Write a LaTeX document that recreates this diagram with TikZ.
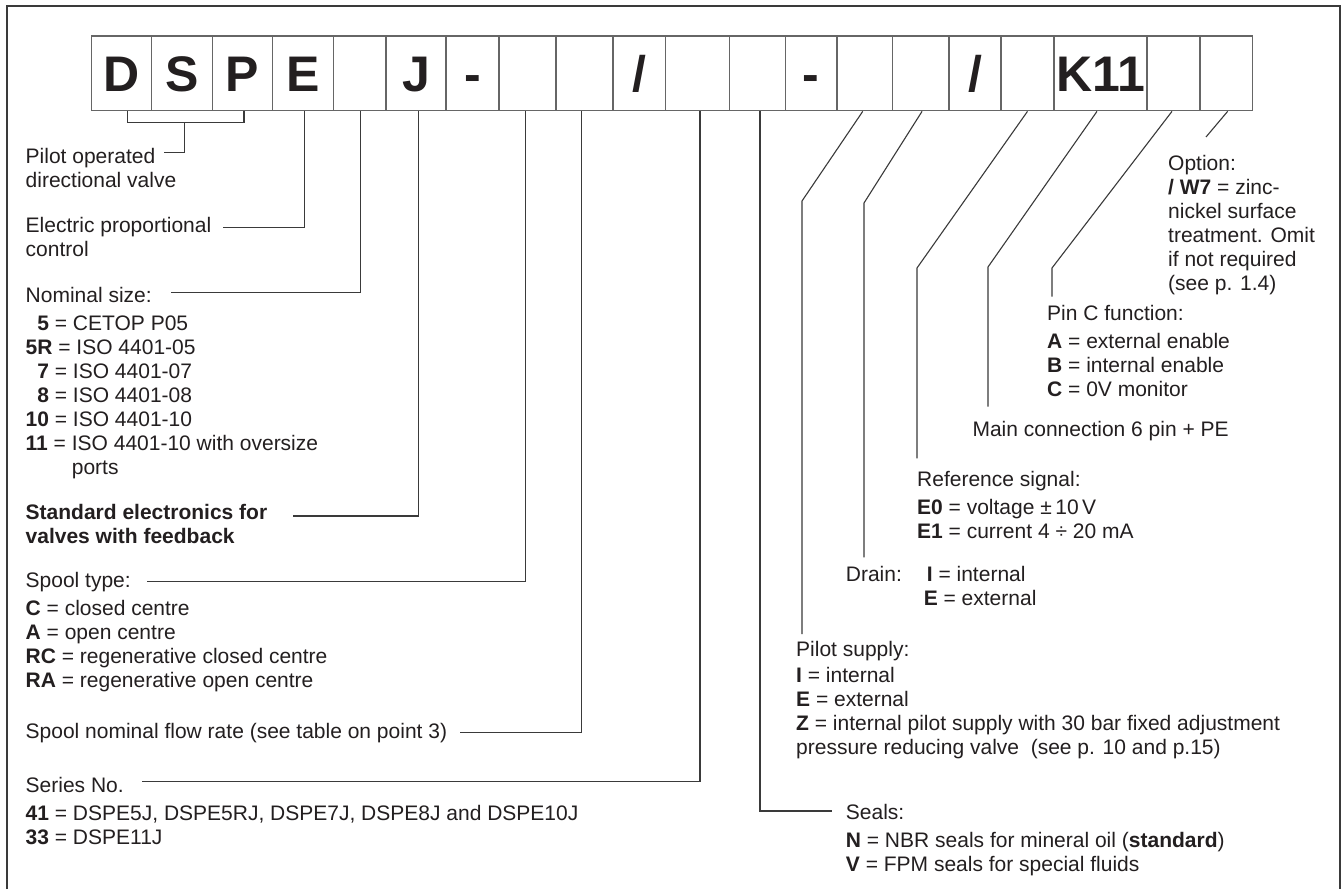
\documentclass[tikz,border=0pt]{standalone}
\usepackage{fontspec}
\setmainfont{Liberation Sans}
\definecolor{ink}{HTML}{231F20}
\definecolor{cellline}{HTML}{666666}
\definecolor{connline}{HTML}{3A3A3A}
\definecolor{frameline}{HTML}{3A3A3A}
\begin{document}
\begin{tikzpicture}[x=1pt,y=-1pt,
  cell/.style={draw=cellline, line width=1.3pt, minimum height=74.7pt, inner sep=0pt,
    text height=35.8pt, text depth=0pt, font=\fontsize{50}{60}\selectfont\bfseries, text=ink},
  conn/.style={draw=connline, line width=1.1pt},
  lbl/.style={anchor=north west, inner sep=0pt, align=left, font=\fontsize{21}{24}\selectfont, text=ink},
]
\useasboundingbox (0,0) rectangle (1344,889);
\fill[white] (0,0) rectangle (1344,889);
% frame
\draw[line width=2pt, frameline] (6.7,889) -- (6.7,6) -- (1340,6) -- (1340,889);
% code cells
\foreach \i/\l/\r/\t in {1/91.7/151.7/D, 2/151.7/212.3/S, 3/212.3/272.7/P, 4/272.7/333.3/E,
  5/333.3/386/{}, 6/386/446/J, 7/446/499/-, 8/499/556/{}, 9/556/613/{}, 10/613/665.6/{/},
  11/665.6/729.5/{}, 12/729.5/785.3/{}, 13/785.3/837/-, 14/837/892.7/{}, 15/892.7/949/{},
  16/949/1001/{/}, 17/1001/1054/{}, 18/1054/1147/K11, 19/1147/1200/{}, 20/1200/1252.7/{}}{
  \node[cell, minimum width={(\r-\l)*1pt}] (b\i) at ({(\l+\r)/2},73.35) {\t};
}
% connector end points
\coordinate (brk) at (184.3,122.3);
\coordinate (ePilot) at (164.3,152.7);
\coordinate (eElec) at (222.7,227.3);
\coordinate (eNom) at (170.7,292.7);
\coordinate (eStd) at (293,516);
\coordinate (eSpool) at (147,581.7);
\coordinate (eFlow) at (460,732.3);
\coordinate (eSeries) at (142,781.7);
\coordinate (eSeals) at (831.5,811);
\coordinate (kPilot) at (802,201);
\coordinate (ePilotSup) at (802,634);
\coordinate (kDrain) at (864,203);
\coordinate (eDrain) at (864,557.3);
\coordinate (kRef) at (917,268);
\coordinate (eRef) at (917,458.3);
\coordinate (kMain) at (988,267);
\coordinate (eMain) at (988,406.7);
\coordinate (kPin) at (1052,268);
\coordinate (ePin) at (1052,296.7);
\coordinate (eOpt) at (1206,137);
% connectors
\draw[conn] ([xshift=6pt]b1.south) |- (brk) -| ([xshift=1.5pt]b3.south);
\draw[conn] (brk) |- (ePilot);
\draw[conn] ([xshift=1.3pt]b4.south) |- (eElec);
\draw[conn] ([xshift=1pt]b5.south) |- (eNom);
\draw[conn] ([xshift=2.7pt]b6.south) |- (eStd);
\draw[conn] ([xshift=-2.2pt]b8.south) |- (eSpool);
\draw[conn] ([xshift=-2.8pt]b9.south) |- (eFlow);
\draw[conn] ([xshift=2.4pt]b11.south) |- (eSeries);
\draw[conn] ([xshift=2.6pt]b12.south) |- (eSeals);
\draw[conn] ([xshift=-2.1pt]b14.south) -- (kPilot) -- (ePilotSup);
\draw[conn] ([xshift=1.2pt]b15.south) -- (kDrain) -- (eDrain);
\draw[conn] (b17.south) -- (kRef) -- (eRef);
\draw[conn] ([xshift=-3.5pt]b18.south) -- (kMain) -- (eMain);
\draw[conn] ([xshift=-1.5pt]b19.south) -- (kPin) -- (ePin);
\draw[conn] ([xshift=1.3pt]b20.south) -- (eOpt);
% left labels
\node[lbl] (tPilot) at (25.5,146.5) {\strut Pilot operated\\\strut directional valve};
\node[lbl] (tElec) at (25.5,215.2) {\strut Electric proportional\\\strut control};
\node[lbl] (tNom) at (25.5,285.2) {\strut Nominal size:\\[4pt]
  \strut\hphantom{\textbf{0}}\textbf{5} = CETOP P05\\
  \strut\textbf{5R} = ISO 4401-05\\
  \strut\hphantom{\textbf{0}}\textbf{7} = ISO 4401-07\\
  \strut\hphantom{\textbf{0}}\textbf{8} = ISO 4401-08\\
  \strut\textbf{10} = ISO 4401-10\\
  \strut\textbf{11} = ISO 4401-10 with oversize\\
  \strut\hphantom{\textbf{11} = }ports};
\node[lbl] (tStd) at (25.5,502.5) {\strut\textbf{Standard electronics for}\\\strut\textbf{valves with feedback}};
\node[lbl] (tSpool) at (25.5,570.5) {\strut Spool type:\\[4pt]
  \strut\textbf{C} = closed centre\\
  \strut\textbf{A} = open centre\\
  \strut\textbf{RC} = regenerative closed centre\\
  \strut\textbf{RA} = regenerative open centre};
\node[lbl] (tFlow) at (25.5,721.5) {\strut Spool nominal flow rate (see table on point 3)};
\node[lbl] (tSeries) at (25.5,775.5) {\strut Series No.\\[4pt]
  \strut\textbf{41} = DSPE5J, DSPE5RJ, DSPE7J, DSPE8J and DSPE10J\\
  \strut\textbf{33} = DSPE11J};
% right labels
\node[lbl] (tOpt) at (1168,153.2) {\strut Option:\\
  \strut\textbf{/ W7} = zinc-\\
  \strut nickel surface\\
  \strut treatment. Omit\\
  \strut if not required\\
  \strut (see p. 1.4)};
\node[lbl] (tPin) at (1047,303.9) {\strut Pin C function:\\[4pt]
  \strut\textbf{A} = external enable\\
  \strut\textbf{B} = internal enable\\
  \strut\textbf{C} = 0V monitor};
\node[lbl] (tMain) at (972.3,419.2) {\strut Main connection 6 pin + PE};
\node[lbl] (tRef) at (917,469.9) {\strut Reference signal:\\[4pt]
  \strut\textbf{E0} = voltage ±\,10\,V\\
  \strut\textbf{E1} = current 4 ÷ 20 mA};
\node[lbl] (tDrain) at (845.7,564.9) {\strut Drain:};
\node[lbl] (tDrainOpt) at (923.6,564.9) {\strut\hspace{3.1pt}\textbf{I} = internal\\\strut\textbf{E} = external};
\node[lbl] (tPilotSup) at (796,639.9) {\strut Pilot supply:\\[2pt]
  \strut\textbf{I} = internal\\
  \strut\textbf{E} = external\\
  \strut\textbf{Z} = internal pilot supply with 30 bar fixed adjustment\\
  \strut pressure reducing valve\ \ (see p. 10 and p.15)};
\node[lbl] (tSeals) at (845.7,802.5) {\strut Seals:\\[4pt]
  \strut\textbf{N} = NBR seals for mineral oil (\textbf{standard})\\
  \strut\textbf{V} = FPM seals for special fluids};
\end{tikzpicture}
\end{document}
